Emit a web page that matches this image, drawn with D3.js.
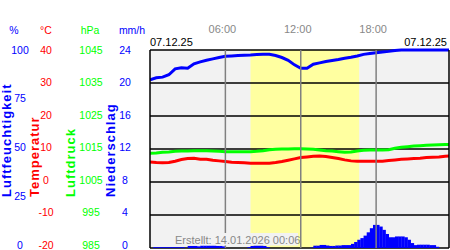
<!DOCTYPE html>
<html>
<head>
<meta charset="utf-8">
<script src="https://cdn.jsdelivr.net/npm/d3@7"></script>
<style>
  body { margin: 0; background: #fff; }
  text { font-family: Arial, "Liberation Sans", sans-serif; }
</style>
</head>
<body>
<svg id="chart" width="450" height="250"></svg>
<script>
// Measurement times (hours of the day)
const hours = d3.range(0, 24.5, 0.5);
const rainHours = d3.range(0, 24, 0.25);

// Luftfeuchtigkeit (%)
const humidity = [85, 86, 86.3, 87.5, 90.5, 91, 90.8, 93, 94, 94.8, 95.5, 96.2,
  96.8, 97, 97.2, 97.4, 97.5, 97.7, 97.8, 97.8, 97.2, 96.2, 94.8, 92.5,
  90.8, 90.8, 92.8, 93.5, 94.2, 94.7, 95.2, 95.8, 96.3, 97, 97.8, 98.2,
  98.6, 99, 99.3, 99.8, 100, 100, 100, 100, 100, 100, 100, 100, 100];

// Temperatur (°C)
const temperature = [6.1, 5.9, 5.8, 5.9, 6.3, 6.8, 7.1, 7.2, 6.9, 6.9, 6.6, 6.4,
  6.2, 6.0, 5.9, 5.8, 5.7, 5.7, 5.7, 5.7, 5.9, 6.2, 6.6, 7.0,
  7.4, 7.6, 7.8, 7.9, 7.7, 7.4, 7.1, 6.7, 6.4, 6.3, 6.3, 6.3,
  6.3, 6.3, 6.5, 6.7, 6.9, 7.0, 7.1, 7.2, 7.4, 7.5, 7.6, 7.8, 7.9];

// Luftdruck (hPa)
const pressure = [1013.7, 1013.8, 1014, 1014.1, 1014.3, 1014.4, 1014.4, 1014.5, 1014.5, 1014.5, 1014.4, 1014.3,
  1014.2, 1014.2, 1014.2, 1014.2, 1014.2, 1014.3, 1014.5, 1014.8, 1014.9, 1015, 1015, 1015.1,
  1015.1, 1015, 1014.9, 1014.7, 1014.5, 1014.4, 1014.2, 1014.0, 1014.1, 1014.4, 1014.6, 1014.7,
  1014.7, 1014.7, 1014.8, 1015.2, 1015.5, 1015.7, 1015.9, 1016, 1016.1, 1016.2, 1016.3, 1016.4, 1016.4];

// Niederschlag (mm/h), quarter-hour values
const rain = [0, 0.1, 0.1, 0.1, 0.1, 0.1, 0.1, 0.1, 0.1, 0.1, 0.1, 0,
  0.25, 0.25, 0.25, 0.2, 0.3, 0.3, 0.3, 0.3, 0.3, 0.25, 0.25, 0.2,
  0, 0, 0, 0, 0, 0, 0, 0.1, 0.25, 0.3, 0.3, 0.3,
  0.25, 0.1, 0, 0, 0, 0, 0, 0, 0, 0, 0, 0,
  0, 0, 0, 0.05, 0.28, 0.28, 0.37, 0.37, 0.3, 0.25, 0.25, 0.3,
  0.3, 0.35, 0.35, 0.35, 0.5, 0.73, 1.0, 1.2, 1.5, 1.9, 2.4, 2.8,
  2.8, 2.6, 2.2, 1.7, 1.3, 1.3, 1.4, 1.4, 1.4, 1.3, 1.0, 0.6,
  0.35, 0.4, 0.4, 0.4, 0.4, 0.35, 0.35, 0.15, 0, 0, 0, 0];

// Axis ticks
const humTicks = [0, 25, 50, 75, 100];
const tempTicks = [-20, -10, 0, 10, 20, 30, 40];
const presTicks = [985, 995, 1005, 1015, 1025, 1035, 1045];
const rainTicks = [0, 4, 8, 12, 16, 20, 24];
const timeTicks = [6, 12, 18];
const daylight = [8.0, 16.65];
const dateLabel = '07.12.25';
const createdLabel = 'Erstellt: 14.01.2026 00:06';

const svg = d3.select('#chart');

const plotLeft = 150, plotRight = 449, plotTop = 50, plotBottom = 248;

// Scales
const x = d3.scaleLinear().domain([0, 24]).range([plotLeft, 451.5]);
const yHum = d3.scaleLinear().domain([0, 100]).range([plotBottom, plotTop]);
const yTemp = d3.scaleLinear().domain([-20, 40]).range([plotBottom, plotTop]);
const yPres = d3.scaleLinear().domain([985, 1045]).range([plotBottom, plotTop]);
const yRain = d3.scaleLinear().domain([0, 24]).range([plotBottom, plotTop]);

svg.append('clipPath').attr('id', 'plot-clip')
  .append('rect')
  .attr('x', plotLeft).attr('y', plotTop - 3)
  .attr('width', plotRight - plotLeft).attr('height', plotBottom - plotTop + 3);

// Background and daylight band
svg.append('rect')
  .attr('x', plotLeft).attr('y', plotTop)
  .attr('width', plotRight - plotLeft).attr('height', plotBottom - plotTop)
  .attr('fill', '#f2f2f2');

svg.append('rect')
  .attr('x', x(daylight[0])).attr('y', plotTop)
  .attr('width', x(daylight[1]) - x(daylight[0])).attr('height', plotBottom - plotTop)
  .attr('fill', '#ffffa0');

// Horizontal grid
svg.selectAll('.hgrid')
  .data(rainTicks)
  .enter()
  .append('line')
  .attr('class', 'hgrid')
  .attr('x1', plotLeft).attr('x2', plotRight)
  .attr('y1', d => yRain(d)).attr('y2', d => yRain(d))
  .attr('stroke', '#000')
  .attr('stroke-width', 1.5);

// Precipitation
const plot = svg.append('g').attr('clip-path', 'url(#plot-clip)');

plot.selectAll('.rain')
  .data(rain)
  .enter()
  .append('rect')
  .attr('class', 'rain')
  .attr('x', (d, i) => x(rainHours[i]))
  .attr('width', x(0.25) - x(0) + 0.3)
  .attr('y', d => yRain(d))
  .attr('height', d => yRain(0) - yRain(d))
  .attr('fill', '#0000ff');

// Vertical time lines
svg.selectAll('.vgrid')
  .data(timeTicks)
  .enter()
  .append('line')
  .attr('class', 'vgrid')
  .attr('x1', d => x(d)).attr('x2', d => x(d))
  .attr('y1', plotTop).attr('y2', plotBottom)
  .attr('stroke', '#808080')
  .attr('stroke-width', 1.5);

// Left / right border
svg.append('line')
  .attr('x1', plotLeft).attr('x2', plotLeft).attr('y1', plotTop).attr('y2', plotBottom)
  .attr('stroke', '#000').attr('stroke-width', 1.5);
svg.append('line')
  .attr('x1', plotRight).attr('x2', plotRight).attr('y1', plotTop).attr('y2', plotBottom)
  .attr('stroke', '#000').attr('stroke-width', 1.5);

// Data lines
function drawLine(values, scale, color) {
  plot.append('path')
    .datum(values)
    .attr('fill', 'none')
    .attr('stroke', color)
    .attr('stroke-width', 3)
    .attr('d', d3.line()
      .x((d, i) => x(hours[i]))
      .y(d => scale(d)));
}
drawLine(pressure, yPres, '#00ff00');
drawLine(temperature, yTemp, '#ff0000');
drawLine(humidity, yHum, '#0000ff');

// "Erstellt" note with background
svg.append('rect')
  .attr('x', 172).attr('y', 233)
  .attr('width', 126).attr('height', 12.5)
  .attr('fill', '#f2f2f2');
svg.append('text')
  .attr('x', 175).attr('y', 244)
  .attr('font-size', 11)
  .attr('fill', '#888')
  .text(createdLabel);

// Time labels
svg.selectAll('.time-label')
  .data(timeTicks)
  .enter()
  .append('text')
  .attr('class', 'time-label')
  .attr('x', d => x(d) - 3)
  .attr('y', 33)
  .attr('text-anchor', 'middle')
  .attr('font-size', 11)
  .attr('fill', '#888')
  .text(d => d3.format('02')(d) + ':00');

// Date labels
svg.append('text')
  .attr('x', plotLeft).attr('y', 46)
  .attr('font-size', 11)
  .text(dateLabel);
svg.append('text')
  .attr('x', 447).attr('y', 46)
  .attr('text-anchor', 'end')
  .attr('font-size', 11)
  .text(dateLabel);

// Left axes
const axes = [
  { unit: '%', ticks: humTicks, scale: yHum, cx: 20, ux: 14, color: '#0000ff', title: 'Luftfeuchtigkeit', tx: 10.5 },
  { unit: '°C', ticks: tempTicks, scale: yTemp, cx: 46, ux: 46, color: '#ff0000', title: 'Temperatur', tx: 38.5 },
  { unit: 'hPa', ticks: presTicks, scale: yPres, cx: 91, ux: 90, color: '#00ff00', title: 'Luftdruck', tx: 75 },
  { unit: 'mm/h', ticks: rainTicks, scale: yRain, cx: 125, ux: 132, color: '#0000ff', title: 'Niederschlag', tx: 115 }
];

axes.forEach(a => {
  const labelScale = a.scale.copy().range([245, 50]);
  const g = svg.append('g').attr('fill', a.color);

  g.append('text')
    .attr('x', a.ux).attr('y', 34)
    .attr('text-anchor', 'middle')
    .attr('font-size', 10.5)
    .text(a.unit);

  g.selectAll('.tick-label')
    .data(a.ticks)
    .enter()
    .append('text')
    .attr('class', 'tick-label')
    .attr('x', a.cx)
    .attr('y', d => labelScale(d))
    .attr('dy', '0.35em')
    .attr('text-anchor', 'middle')
    .attr('font-size', 10.5)
    .text(d => d);

  g.append('text')
    .attr('transform', `translate(${a.tx}, 197) rotate(-90)`)
    .attr('font-size', 13)
    .attr('font-weight', 'bold')
    .attr('letter-spacing', 1)
    .text(a.title);
});
</script>
</body>
</html>
